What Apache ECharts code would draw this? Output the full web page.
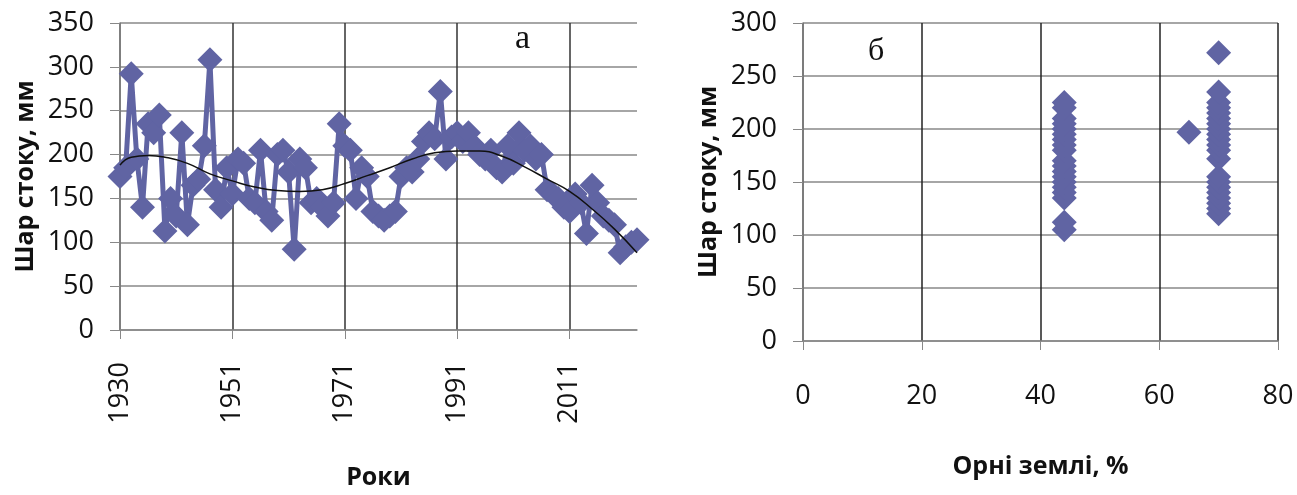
<!DOCTYPE html>
<html>
<head>
<meta charset="utf-8">
<script src="https://cdn.jsdelivr.net/npm/echarts@6/dist/echarts.min.js"></script>
<style>
html,body{margin:0;padding:0;background:#fff;}
#main{width:1297px;height:495px;}
</style>
</head>
<body>
<div id="main"></div>
<script>
// роки (одного року немає, тому 1951 стоїть на 20-й позиції)
var years = [];
for (var y = 1930; y <= 2023; y++) {
    if (y !== 1943) years.push(String(y));
}

// шар стоку, мм
var runoff = [
    175, 185, 292, 195, 140, 235, 225, 245, 113, 150,
    130, 225, 120, 165, 172, 210, 308, 160, 140, 185,
    155, 195, 190, 150, 145, 205, 135, 125, 200, 205,
    180, 92, 195, 185, 145, 150, 140, 130, 145, 235,
    210, 205, 150, 185, 175, 135, 130, 125, 130, 135,
    175, 185, 180, 195, 215, 225, 218, 272, 195, 220,
    225, 215, 225, 210, 200, 195, 205, 185, 180, 210,
    190, 225, 205, 210, 195, 200, 160, 155, 150, 140,
    135, 155, 145, 110, 165, 145, 130, 125, 120, 88,
    95, 100, 103
];

// поліноміальний тренд
var trendIdx = [0, 2, 5, 8, 12, 16, 20, 24, 28, 32, 36, 40, 44, 48, 52, 56, 60, 64, 68, 72, 76, 80, 84, 88, 92];
var trendVal = [188, 197, 199, 197, 190, 178, 170, 163, 159, 158, 160, 167, 176, 185, 195, 202, 204, 204, 198, 186, 172, 158, 138, 115, 88];

// рисунок б: орні землі, % і шар стоку
var arable44 = [105, 112, 135, 140, 145, 150, 155, 160, 165, 170, 180, 185, 190, 195, 200, 205, 210, 220, 225];
var arable65 = [197];
var arable70 = [120, 125, 130, 135, 140, 145, 150, 155, 172, 180, 185, 190, 195, 200, 205, 210, 215, 220, 225, 235, 272];

var markColor = '#6064A3';
var labelFont = 'Open Sans';

var trendData = years.map(function () { return null; });
for (var i = 0; i < trendIdx.length; i++) {
    trendData[trendIdx[i]] = trendVal[i];
}

function pairs(x, arr) {
    return arr.map(function (v) { return [x, v]; });
}

var chart = echarts.init(document.getElementById('main'));
var option = {
    animation: false,
    backgroundColor: '#fff',
    grid: [
        {left: 120, top: 23, width: 517, height: 310},
        {left: 803, top: 23, width: 475, height: 318}
    ],
    xAxis: [
        {
            gridIndex: 0,
            type: 'category',
            data: years,
            boundaryGap: false,
            axisLine: {lineStyle: {color: '#888', width: 1.5}},
            axisTick: {show: true, interval: 19, length: 9, lineStyle: {color: '#888'}},
            axisLabel: {
                interval: 19, rotate: 90, margin: 32,
                fontFamily: labelFont, fontSize: 27, color: '#111'
            },
            splitLine: {show: true, interval: 19, lineStyle: {color: '#333', width: 1.5}},
            name: 'Роки',
            nameLocation: 'middle',
            nameGap: 135,
            nameTextStyle: {fontFamily: labelFont, fontWeight: 'bold', fontSize: 25, color: '#111'}
        },
        {
            gridIndex: 1,
            type: 'value',
            min: 0, max: 80, interval: 20,
            axisLine: {show: true, lineStyle: {color: '#888', width: 1.5}},
            axisTick: {show: true, length: 9, lineStyle: {color: '#888'}},
            axisLabel: {margin: 42, fontFamily: labelFont, fontSize: 27, color: '#111'},
            splitLine: {show: true, lineStyle: {color: '#222', width: 1.5}},
            name: 'Орні землі, %',
            nameLocation: 'middle',
            nameGap: 113,
            nameTextStyle: {fontFamily: labelFont, fontWeight: 'bold', fontSize: 25, color: '#111'}
        }
    ],
    yAxis: [
        {
            gridIndex: 0,
            type: 'value',
            min: 0, max: 350, interval: 50,
            axisLine: {show: true, lineStyle: {color: '#888', width: 1.5}},
            axisTick: {show: true, length: 10, lineStyle: {color: '#888'}},
            axisLabel: {margin: 26, fontFamily: labelFont, fontSize: 27, color: '#111'},
            splitLine: {show: true, lineStyle: {color: '#888', width: 1.5}},
            name: 'Шар стоку, мм',
            nameLocation: 'middle',
            nameGap: 82,
            nameTextStyle: {fontFamily: labelFont, fontWeight: 'bold', fontSize: 25, color: '#111'}
        },
        {
            gridIndex: 1,
            type: 'value',
            min: 0, max: 300, interval: 50,
            axisLine: {show: true, lineStyle: {color: '#888', width: 1.5}},
            axisTick: {show: true, length: 10, lineStyle: {color: '#888'}},
            axisLabel: {margin: 26, fontFamily: labelFont, fontSize: 27, color: '#111'},
            splitLine: {show: true, lineStyle: {color: '#888', width: 1.5}},
            name: 'Шар стоку, мм',
            nameLocation: 'middle',
            nameGap: 82,
            nameTextStyle: {fontFamily: labelFont, fontWeight: 'bold', fontSize: 25, color: '#111'}
        }
    ],
    series: [
        {
            type: 'line',
            xAxisIndex: 0, yAxisIndex: 0,
            data: runoff,
            symbol: 'diamond',
            symbolSize: 25,
            showAllSymbol: true,
            lineStyle: {color: markColor, width: 5},
            itemStyle: {color: markColor}
        },
        {
            type: 'line',
            xAxisIndex: 0, yAxisIndex: 0,
            data: trendData,
            connectNulls: true,
            smooth: 0.5,
            symbol: 'none',
            lineStyle: {color: '#111', width: 1.5},
            z: 5
        },
        {
            type: 'scatter',
            xAxisIndex: 1, yAxisIndex: 1,
            data: pairs(44, arable44).concat(pairs(65, arable65)).concat(pairs(70, arable70)),
            symbol: 'diamond',
            symbolSize: 25,
            itemStyle: {color: markColor, opacity: 1}
        }
    ],
    graphic: [
        {type: 'text', left: 515, top: 22, style: {text: 'a', font: '34px "Liberation Serif"', fill: '#111'}},
        {type: 'text', left: 868, top: 36, style: {text: 'б', font: '32px "Liberation Serif"', fill: '#111'}}
    ]
};
chart.setOption(option);
</script>
</body>
</html>
